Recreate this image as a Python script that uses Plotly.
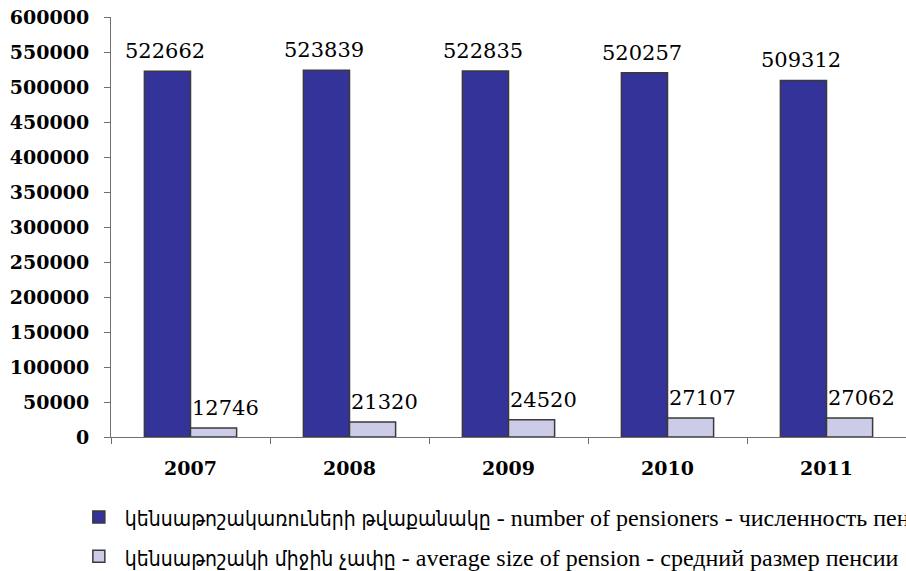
import plotly.graph_objects as go

years = ["2007", "2008", "2009", "2010", "2011"]
pensioners = [522662, 523839, 522835, 520257, 509312]
avg_pension = [12746, 21320, 24520, 27107, 27062]

arm_style = "font-family:'DejaVu Sans Condensed';font-size:21px"
name_pens = (f'<span style="{arm_style}">կենսաթոշակառուների թվաքանակը</span>'
             " - number of pensioners - численность пенсионеров")
name_avg = (f'<span style="{arm_style}">կենսաթոշակի միջին չափը</span>'
            " - average size of pension - средний размер пенсии")

fig = go.Figure()
fig.add_trace(go.Bar(
    x=years, y=pensioners, name=name_pens, legendgroup="a",
    marker=dict(color="#333399", line=dict(color="#3a3a3a", width=1.5)),
))
fig.add_trace(go.Bar(
    x=years, y=avg_pension, name=name_avg, legendgroup="b",
    marker=dict(color="#CCCCE8", line=dict(color="#3a3a3a", width=1.5)),
))

annotations = []
for i, v in enumerate(pensioners):
    annotations.append(dict(x=i, y=v, xref="x", yref="y", text=str(v), showarrow=False,
                            xshift=-26, yshift=20, yanchor="middle", xanchor="center",
                            font=dict(family="DejaVu Serif", size=21, color="black")))
for i, v in enumerate(avg_pension):
    annotations.append(dict(x=i, y=v, xref="x", yref="y", text=str(v), showarrow=False,
                            xshift=35, yshift=20, yanchor="middle", xanchor="center",
                            font=dict(family="DejaVu Serif", size=21, color="black")))

fig.update_layout(
    width=906, height=571,
    margin=dict(l=111, r=0, t=17, b=134, autoexpand=False),
    paper_bgcolor="white", plot_bgcolor="white",
    barmode="group", bargap=0.42, bargroupgap=0,
    annotations=annotations,
    showlegend=True,
    legend=dict(
        x=-0.048, xanchor="left", y=-0.138, yanchor="top",
        font=dict(family="Liberation Serif", size=24, color="black"),
        tracegroupgap=5, itemwidth=42, bgcolor="rgba(0,0,0,0)",
    ),
    xaxis=dict(
        type="category", showline=True, linecolor="#707070", linewidth=1,
        ticks="outside", tickson="boundaries", ticklen=6, tickcolor="#707070",
        showgrid=False, zeroline=False, ticklabelstandoff=14, automargin=False,
        tickfont=dict(family="DejaVu Serif", size=19, color="black", weight="bold"),
    ),
    yaxis=dict(
        range=[0, 600000], dtick=50000, tickformat="d", showline=True, linecolor="#707070", linewidth=1,
        ticks="outside", ticklen=6, tickcolor="#707070", automargin=False,
        showgrid=False, zeroline=False, ticklabelstandoff=11,
        tickfont=dict(family="DejaVu Serif", size=19, color="black", weight="bold"),
    ),
)

fig.write_html("out.html", config={"displayModeBar": False},
               post_script="document.body.style.margin='0';")
